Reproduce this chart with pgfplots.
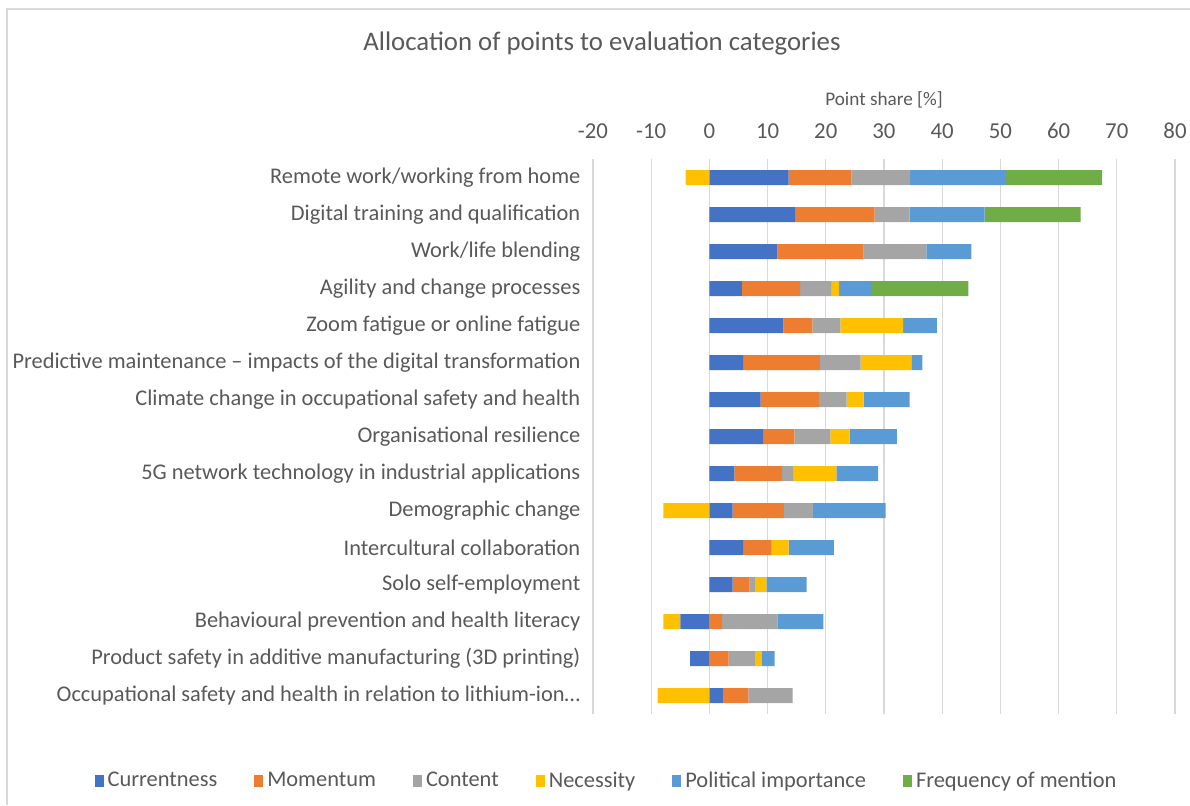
\documentclass[border=0pt]{standalone}
\usepackage{fontspec}
\setmainfont{Carlito}
\usepackage{pgfplots}
\usepackage{pgfplotstable}
\pgfplotsset{compat=1.18}
\definecolor{cCur}{HTML}{4472C4}
\definecolor{cMom}{HTML}{ED7D31}
\definecolor{cCon}{HTML}{A5A5A5}
\definecolor{cNec}{HTML}{FFC000}
\definecolor{cPol}{HTML}{5B9BD5}
\definecolor{cFre}{HTML}{70AD47}
\definecolor{txt}{HTML}{595959}
\definecolor{gridc}{HTML}{D9D9D9}

\pgfplotstableread{
row Cur Mom Con Nec Pol Fre
0 13.6 10.8 10.1 -4.1 16.5 16.5
1 14.8 13.6 6.0 0 12.9 16.5
2 11.7 14.8 10.8 0 7.7 0
3 5.6 10.0 5.3 1.4 5.5 16.7
4 12.7 5.0 4.8 10.8 5.8 0
5 5.8 13.2 7.0 8.7 1.9 0
6 8.8 10.0 4.8 2.9 7.9 0
7 9.3 5.3 6.2 3.3 8.1 0
8 4.3 8.2 1.9 7.4 7.2 0
9 4.0 8.8 5.0 -7.9 12.5 0
10 5.8 4.9 0 2.9 7.8 0
11 4.0 2.9 0.9 2.0 6.9 0
12 -5.0 2.2 9.5 -2.9 7.9 0
13 -3.3 3.3 4.5 1.2 2.2 0
14 2.3 4.4 7.6 -8.9 0 0
}\data

\pgfplotsset{
  base/.style={
    scale only axis, width=291pt, height=277.5pt,
    xmin=-20, xmax=80, ymin=-0.5, ymax=14.5,
    y dir=reverse, xbar stacked, bar width=7.5pt,
  },
  seg/.style={fill=#1, draw=none},
}

\begin{document}
\begin{tikzpicture}
\path[use as bounding box] (-296.5pt,-45.5pt) rectangle (298.5pt,357pt);
\draw[gridc, line width=1pt] (-293pt,-45.5pt) -- (-293pt,352.5pt) -- (298.5pt,352.5pt);
\node[font=\fontsize{13.4}{16}\selectfont, text=txt] at (4.5pt,335.5pt) {Allocation of points to evaluation categories};
\begin{axis}[base,
  axis line style={draw=none}, tick style={draw=none},
  xmajorgrids, major grid style={gridc, line width=0.6pt},
  xtick={-20,-10,...,80}, xticklabel pos=upper,
  /pgf/number format/assume math mode=true,
  xticklabel style={font=\fontsize{11.4}{13}\selectfont, text=txt, yshift=6.5pt},
  xlabel={Point share [\%]},
  xlabel style={at={(axis description cs:0.5,1)}, anchor=center, yshift=29.5pt, font=\fontsize{9.6}{12}\selectfont, text=txt},
  ytick={0,...,14},
  yticklabels={Remote work/working from home, Digital training and qualification, Work/life blending, Agility and change processes, Zoom fatigue or online fatigue, Predictive maintenance -- impacts of the digital transformation, Climate change in occupational safety and health, Organisational resilience, 5G network technology in industrial applications, Demographic change, Intercultural collaboration, Solo self-employment, Behavioural prevention and health literacy, Product safety in additive manufacturing (3D printing), Occupational safety and health in relation to lithium-ion…},
  yticklabel style={font=\fontsize{11.2}{13}\selectfont, text=txt, xshift=-2.8pt},
  legend columns=6,
  legend style={draw=none, at={(0.025,-0.121)}, anchor=center, font=\fontsize{11.2}{13}\selectfont, text=txt,
    /tikz/every even column/.append style={column sep=16.5pt}},
  legend cell align=left,
  legend image code/.code={\fill[#1] (0pt,-3pt) rectangle (4.5pt,3pt);},
]
\addplot[seg=cCur] table[x expr={max(\thisrow{Cur},0)}, y=row] {\data};
\addplot[seg=cMom] table[x expr={max(\thisrow{Mom},0)}, y=row] {\data};
\addplot[seg=cCon] table[x expr={max(\thisrow{Con},0)}, y=row] {\data};
\addplot[seg=cNec] table[x expr={max(\thisrow{Nec},0)}, y=row] {\data};
\addplot[seg=cPol] table[x expr={max(\thisrow{Pol},0)}, y=row] {\data};
\addplot[seg=cFre] table[x expr={max(\thisrow{Fre},0)}, y=row] {\data};
\legend{Currentness, Momentum, Content, Necessity, Political importance, Frequency of mention}
\end{axis}
\begin{axis}[base, hide axis]
\addplot[seg=cCur] table[x expr={min(\thisrow{Cur},0)}, y=row] {\data};
\addplot[seg=cNec] table[x expr={min(\thisrow{Nec},0)}, y=row] {\data};
\end{axis}
\end{tikzpicture}
\end{document}
